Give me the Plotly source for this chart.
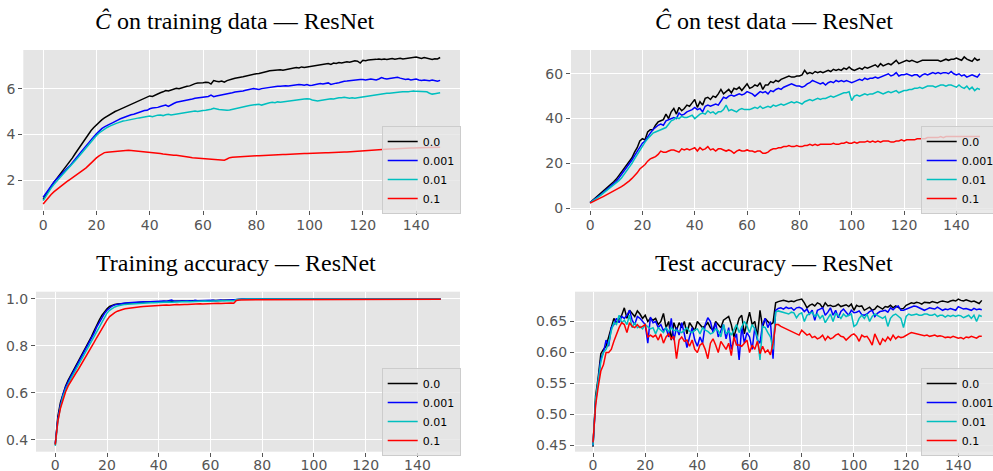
import plotly.graph_objects as go

epochs = list(range(150))
series_labels = ["0.0", "0.001", "0.01", "0.1"]
series_colors = ["#000000", "#0000ff", "#00bfbf", "#ff0000"]

panel_titles = ["<i>Ĉ</i> on training data — ResNet", "<i>Ĉ</i> on test data — ResNet",
                "Training accuracy — ResNet", "Test accuracy — ResNet"]

# ---------------- C-hat on training data ----------------
c_train_0 = [
    1.15, 1.35, 1.55, 1.72, 1.9, 2.05, 2.2, 2.35, 2.5, 2.65,
    2.8, 2.97, 3.15, 3.32, 3.5, 3.68, 3.85, 4.02, 4.17, 4.3,
    4.42, 4.53, 4.63, 4.72, 4.8, 4.87, 4.94, 5.0, 5.05, 5.1,
    5.18, 5.22, 5.25, 5.3, 5.35, 5.4, 5.45, 5.52, 5.57, 5.6,
    5.68, 5.66, 5.72, 5.78, 5.82, 5.86, 5.92, 5.9, 5.95, 5.98,
    6.02, 6.0, 6.04, 6.06, 6.1, 6.12, 6.18, 6.22, 6.25, 6.24,
    6.26, 6.28, 6.27, 6.2, 6.35, 6.32, 6.3, 6.33, 6.28, 6.35,
    6.4, 6.42, 6.45, 6.46, 6.5, 6.52, 6.55, 6.58, 6.6, 6.62,
    6.65, 6.66, 6.7, 6.72, 6.75, 6.78, 6.8, 6.81, 6.82, 6.83,
    6.8, 6.83, 6.86, 6.88, 6.9, 6.92, 6.9, 6.95, 6.93, 6.95,
    6.94, 6.96, 7.0, 7.02, 7.04, 7.05, 7.08, 7.1, 7.06, 7.12,
    7.1, 7.14, 7.12, 7.16, 7.18, 7.15, 7.2, 7.22, 7.2, 7.12,
    7.24, 7.22, 7.25, 7.26, 7.24, 7.28, 7.3, 7.27, 7.3, 7.28,
    7.3, 7.32, 7.29, 7.3, 7.33, 7.3, 7.32, 7.34, 7.35, 7.36,
    7.38, 7.35, 7.32, 7.36, 7.33, 7.3, 7.28, 7.31, 7.3, 7.36,
]
c_train_001 = [
    1.25, 1.42, 1.6, 1.76, 1.9, 2.03, 2.16, 2.28, 2.4, 2.52,
    2.62, 2.75, 2.9, 3.05, 3.2, 3.35, 3.5, 3.65, 3.78, 3.9,
    4.02, 4.14, 4.25, 4.33, 4.4, 4.45, 4.5, 4.58, 4.62, 4.68,
    4.73, 4.78, 4.82, 4.86, 4.88, 4.92, 4.98, 5.03, 5.04, 5.05,
    5.12, 5.15, 5.16, 5.18, 5.22, 5.25, 5.28, 5.22, 5.3, 5.35,
    5.4, 5.42, 5.45, 5.48, 5.5, 5.53, 5.55, 5.58, 5.6, 5.62,
    5.63, 5.64, 5.66, 5.72, 5.65, 5.68, 5.7, 5.72, 5.73, 5.75,
    5.78, 5.82, 5.85, 5.86, 5.88, 5.9, 5.93, 5.95, 5.98, 6.0,
    5.98, 5.96, 6.0, 6.02, 6.04, 6.06, 6.05, 6.08, 6.1, 6.1,
    6.12, 6.13, 6.12, 6.14, 6.16, 6.15, 6.18, 6.17, 6.15, 6.18,
    6.14, 6.15, 6.17, 6.2, 6.22, 6.2, 6.24, 6.25, 6.18, 6.22,
    6.24, 6.26, 6.3, 6.32, 6.33, 6.35, 6.36, 6.38, 6.38, 6.4,
    6.4, 6.38, 6.4, 6.42, 6.4, 6.38, 6.42, 6.48, 6.44, 6.42,
    6.44, 6.46, 6.48, 6.5, 6.46, 6.42, 6.4, 6.42, 6.38, 6.4,
    6.42, 6.38, 6.36, 6.38, 6.37, 6.35, 6.38, 6.36, 6.32, 6.36,
]
c_train_01 = [
    1.1, 1.3, 1.48, 1.65, 1.8, 1.95, 2.08, 2.2, 2.33, 2.45,
    2.57, 2.7, 2.84, 2.98, 3.12, 3.27, 3.42, 3.56, 3.7, 3.82,
    3.95, 4.06, 4.15, 4.23, 4.3, 4.36, 4.42, 4.46, 4.5, 4.55,
    4.58, 4.6, 4.63, 4.66, 4.68, 4.7, 4.72, 4.74, 4.76, 4.78,
    4.8, 4.77, 4.82, 4.84, 4.85, 4.82, 4.86, 4.88, 4.85, 4.87,
    4.9, 4.92, 4.94, 4.95, 4.96, 4.98, 5.0, 5.02, 5.0, 5.03,
    5.04, 5.05, 5.06, 5.1, 5.14, 5.1, 5.09, 5.08, 5.06, 5.05,
    5.07, 5.1, 5.12, 5.15, 5.18, 5.2, 5.22, 5.25, 5.27, 5.28,
    5.3, 5.32, 5.28, 5.3, 5.35, 5.38, 5.4, 5.38, 5.42, 5.4,
    5.42, 5.44, 5.45, 5.46, 5.48, 5.5, 5.52, 5.53, 5.55, 5.56,
    5.55, 5.5, 5.48, 5.46, 5.48, 5.5, 5.52, 5.55, 5.56, 5.55,
    5.58, 5.6, 5.6, 5.62, 5.6, 5.58, 5.6, 5.58, 5.6, 5.62,
    5.62, 5.64, 5.66, 5.68, 5.7, 5.72, 5.74, 5.76, 5.78, 5.8,
    5.8, 5.82, 5.84, 5.83, 5.85, 5.86, 5.85, 5.86, 5.88, 5.9,
    5.88, 5.87, 5.86, 5.84, 5.86, 5.8, 5.76, 5.78, 5.8, 5.82,
]
c_train_1 = [
    0.95, 1.1, 1.24, 1.37, 1.48, 1.58, 1.68, 1.77, 1.86, 1.94,
    2.02, 2.1, 2.18, 2.26, 2.34, 2.42, 2.52, 2.63, 2.75, 2.87,
    2.97, 3.06, 3.14, 3.2, 3.22, 3.23, 3.25, 3.26, 3.27, 3.28,
    3.3, 3.31, 3.3, 3.29, 3.28, 3.28, 3.27, 3.26, 3.24, 3.22,
    3.2, 3.19, 3.18, 3.17, 3.16, 3.14, 3.12, 3.1, 3.09, 3.09,
    3.08, 3.07, 3.06, 3.04, 3.02, 3.0, 2.98, 2.97, 2.96, 2.96,
    2.95, 2.95, 2.94, 2.94, 2.93, 2.92, 2.91, 2.89, 2.87, 2.92,
    2.98, 3.0, 3.01, 3.02, 3.03, 3.03, 3.04, 3.04, 3.05, 3.05,
    3.06, 3.06, 3.07, 3.08, 3.08, 3.09, 3.1, 3.1, 3.11, 3.11,
    3.12, 3.12, 3.13, 3.13, 3.14, 3.14, 3.15, 3.15, 3.16, 3.16,
    3.17, 3.17, 3.18, 3.18, 3.19, 3.19, 3.2, 3.2, 3.21, 3.21,
    3.22, 3.22, 3.22, 3.23, 3.23, 3.24, 3.24, 3.25, 3.25, 3.26,
    3.26, 3.27, 3.28, 3.29, 3.3, 3.31, 3.32, 3.33, 3.34, 3.35,
    3.36, 3.36, 3.37, 3.37, 3.38, 3.38, 3.39, 3.39, 3.4, 3.4,
    3.41, 3.41, 3.41, 3.42, 3.42, 3.42, 3.42, 3.43, 3.43, 3.43,
]

# ---------------- C-hat on test data ----------------
c_test_0 = [
    2.5, 3.5, 4.5, 5.5, 6.5, 7.5, 8.5, 9.5, 10.5, 11.8,
    13, 14.5, 16, 17.5, 19.5, 21, 22.5, 25, 27, 30,
    31, 30.5, 34, 35, 35, 37, 38.5, 39, 39.5, 42,
    40, 43, 44.5, 42, 45, 43.5, 44.5, 46, 45.5, 47,
    48.5, 45, 47.5, 46, 49, 49.5, 48.5, 50, 49.5, 51,
    53, 51, 52, 53, 51.5, 53.5, 53, 54, 52.5, 54,
    55.5, 53.5, 54, 55, 54.5, 56, 53, 55, 55, 56.5,
    56, 57, 56.5, 57.5, 58, 58.5, 59, 58.5, 58.5, 59,
    59, 59.5, 61.5, 60, 60.5, 60, 61, 60.5, 61, 60.5,
    61, 61.5, 61, 62, 61.5, 62, 61.5, 62.5, 62, 63,
    62, 61.5, 62, 62.5, 62, 63, 62.5, 63, 63.5, 64,
    63, 64.5, 63.5, 64, 64.5, 64, 65, 66, 64.5, 65,
    65.5, 66, 65.5, 66, 65.5, 65, 65.5, 66, 66, 66,
    66, 66, 66, 66, 65.5, 66, 66.5, 66, 66.5, 66.5,
    67, 66.5, 66, 67.5, 66.5, 66, 65.5, 67, 66, 66.5,
]
c_test_001 = [
    2.5, 3.3, 4.2, 5, 6, 7, 8, 9, 10, 11,
    12, 13.5, 15, 16.5, 18, 19.5, 21.5, 23.5, 25.5, 27.5,
    29, 30, 32, 33.5, 35, 36, 37, 37.5, 37, 39,
    39.5, 40, 40.5, 40, 42.5, 41.5, 42, 43, 43.5, 44,
    45, 44, 44.5, 43, 45.5, 46, 45.5, 46, 46.5, 46,
    48, 49.5, 49, 50, 50.5, 50, 50.5, 51, 50.5, 51,
    52, 51.5, 51, 50, 51, 52, 51.5, 52, 51, 52.5,
    52, 53, 53.5, 53, 54, 54.5, 55, 55.5, 55, 54.5,
    54.5, 54, 54.5, 55.5, 56, 57, 56.5, 56, 55.5, 56,
    55, 56, 56.5, 56, 57, 56.5, 57, 56.5, 57, 56.5,
    56, 56.5, 57, 57.5, 57, 58, 57.5, 58, 58, 58.5,
    58, 58.5, 59, 59.5, 60, 59, 59.5, 60.5, 59, 59.5,
    59.5, 60, 59.5, 59, 59.5, 59.5, 58.5, 59.5, 60, 59.5,
    60, 60.5, 60, 60.5, 60, 60.5, 60.5, 60, 61, 60,
    59.5, 60, 59, 59.5, 58.5, 59, 59.5, 59, 58.5, 60,
]
c_test_01 = [
    2.5, 3.2, 4, 4.8, 5.7, 6.6, 7.5, 8.4, 9.3, 10.2,
    11.2, 12.3, 13.5, 15, 16.5, 18, 20, 22, 24, 26,
    28, 29.5, 31, 32.5, 33.5, 34, 34.5, 35, 35.5, 36,
    37.5, 39, 39.5, 40.5, 40, 41, 40.5, 40.5, 41, 41.5,
    40, 41, 42, 42.5, 42, 43.5, 42.5, 43, 42, 43,
    43, 44, 46, 43.5, 44, 43.5, 43, 44, 44.5, 44,
    44, 44, 44.5, 45, 44.5, 45.5, 44.5, 45, 45.5, 45,
    46, 45.5, 46, 46.5, 46, 46.5, 47, 47.5, 47, 47.5,
    47, 46.5, 47.5, 48, 48.5, 48, 48.5, 49, 48.5, 49,
    49, 49.5, 50, 49.5, 50, 50.5, 51, 51.5, 51.5, 52,
    48, 50, 50.5, 50, 50.5, 51, 50.5, 51, 51, 51.5,
    52, 51.5, 51, 51.5, 52, 51.5, 52, 52.5, 51.5, 52,
    52.5, 52.5, 53, 53, 53.5, 53.5, 54, 53.5, 54, 54.5,
    54.5, 54.5, 54, 54.5, 55, 55, 54.5, 55, 55, 54.5,
    54, 55, 54, 53.5, 54.5, 53, 54, 52.5, 53.5, 53,
]
c_test_1 = [
    2.3, 2.8, 3.4, 4, 4.6, 5.2, 5.8, 6.4, 7, 7.6,
    8.2, 8.9, 9.6, 10.4, 11.2, 12.2, 13.3, 14.5, 15.8, 17.5,
    18.5, 19.5, 21, 22, 22.5, 23, 24, 25.5, 25, 25,
    25.5, 26, 26, 25.5, 25, 26.5, 26, 26.5, 26, 26.5,
    27, 25.5, 27, 26, 26.5, 27.5, 26, 26.5, 25.5, 26.5,
    26.5, 26, 25.5, 26, 25.5, 24.5, 25.5, 26, 25.5, 25.5,
    26, 25.5, 25.5, 25, 25.5, 25.5, 24.5, 24.5, 25, 26,
    26.5, 26.5, 27, 27, 27.5, 27.5, 28, 27.5, 27.5, 28,
    27.5, 27.5, 28, 28, 28.5, 28, 28.5, 28, 28.5, 28.5,
    28.5, 28.5, 28.5, 29, 28.5, 28.5, 29, 29, 29.5, 29,
    29, 29.5, 29, 29.5, 29.5, 29.5, 30, 29.5, 30, 29.5,
    30, 29.5, 30, 30, 30, 29.5, 29.5, 30, 30, 30.5,
    30, 30.5, 30.5, 30.5, 30.5, 31, 31, 31, 31, 31.5,
    31.5, 31.5, 31.5, 31.5, 32, 31.5, 32, 32, 32, 32,
    32, 32, 32, 32, 32, 32, 32, 32, 32, 32,
]

# ---------------- Training accuracy ----------------
acc_train_0 = [
    0.38, 0.5, 0.56, 0.6, 0.63, 0.655, 0.675, 0.695, 0.715, 0.735,
    0.76, 0.78, 0.8, 0.82, 0.84, 0.865, 0.89, 0.91, 0.93, 0.945,
    0.958, 0.968, 0.974, 0.977, 0.979, 0.98, 0.981, 0.982, 0.983, 0.984,
    0.984, 0.985, 0.984, 0.986, 0.986, 0.987, 0.986, 0.987, 0.988, 0.987,
    0.988, 0.988, 0.989, 0.988, 0.989, 0.99, 0.989, 0.99, 0.99, 0.991,
    0.99, 0.991, 0.99, 0.992, 0.991, 0.992, 0.992, 0.993, 0.992, 0.993,
    0.993, 0.994, 0.993, 0.994, 0.994, 0.995, 0.994, 0.995, 0.995, 0.996,
    0.998, 0.999, 0.999, 0.999, 0.9995, 0.9995, 0.9993, 0.9996, 0.9995, 0.9997,
    0.9996, 0.9997, 0.9998, 0.9997, 0.9998, 0.9998, 0.9997, 0.9998, 0.9999, 0.9998,
    0.9998, 0.9999, 0.9999, 0.9998, 0.9999, 0.9999, 0.9999, 0.9999, 1.0, 0.9999,
    1.0, 0.9999, 1.0, 1.0, 0.9999, 1.0, 1.0, 1.0, 0.9999, 1.0,
    1.0, 1.0, 1.0, 0.9999, 1.0, 1.0, 1.0, 1.0, 1.0, 1.0,
    1.0, 1.0, 1.0, 1.0, 1.0, 0.9999, 1.0, 1.0, 1.0, 1.0,
    1.0, 1.0, 1.0, 1.0, 1.0, 1.0, 1.0, 1.0, 1.0, 1.0,
    1.0, 1.0, 1.0, 1.0, 1.0, 1.0, 1.0, 1.0, 1.0, 1.0,
]
acc_train_001 = [
    0.385, 0.49, 0.55, 0.595, 0.625, 0.65, 0.67, 0.69, 0.71, 0.73,
    0.75, 0.77, 0.79, 0.81, 0.83, 0.855, 0.88, 0.9, 0.92, 0.938,
    0.952, 0.963, 0.97, 0.975, 0.978, 0.98, 0.981, 0.983, 0.984, 0.985,
    0.986, 0.985, 0.987, 0.986, 0.988, 0.987, 0.988, 0.989, 0.988, 0.99,
    0.989, 0.99, 0.991, 0.99, 0.992, 0.995, 0.99, 0.991, 0.99, 0.992,
    0.991, 0.992, 0.993, 0.991, 0.994, 0.992, 0.993, 0.994, 0.993, 0.995,
    0.994, 0.995, 0.993, 0.995, 0.996, 0.994, 0.995, 0.996, 0.997, 0.996,
    0.999, 0.999, 0.9995, 0.9994, 0.9996, 0.9995, 0.9997, 0.9996, 0.9997, 0.9998,
    0.9997, 0.9998, 0.9998, 0.9999, 0.9998, 0.9999, 0.9998, 0.9999, 0.9999, 0.9999,
    0.9999, 1.0, 0.9999, 1.0, 0.9999, 1.0, 1.0, 0.9999, 1.0, 1.0,
    1.0, 1.0, 0.9999, 1.0, 1.0, 1.0, 1.0, 1.0, 0.9999, 1.0,
    1.0, 1.0, 1.0, 1.0, 1.0, 1.0, 0.9999, 1.0, 1.0, 1.0,
    1.0, 1.0, 1.0, 1.0, 1.0, 1.0, 1.0, 1.0, 1.0, 1.0,
    1.0, 1.0, 1.0, 1.0, 1.0, 1.0, 1.0, 1.0, 1.0, 1.0,
    1.0, 1.0, 1.0, 1.0, 1.0, 1.0, 1.0, 1.0, 1.0, 1.0,
]
acc_train_01 = [
    0.375, 0.48, 0.54, 0.585, 0.615, 0.64, 0.66, 0.68, 0.7, 0.72,
    0.74, 0.76, 0.78, 0.8, 0.82, 0.84, 0.865, 0.885, 0.905, 0.925,
    0.94, 0.952, 0.96, 0.966, 0.97, 0.973, 0.975, 0.977, 0.978, 0.979,
    0.98, 0.981, 0.981, 0.982, 0.982, 0.983, 0.983, 0.984, 0.984, 0.985,
    0.985, 0.985, 0.986, 0.986, 0.987, 0.986, 0.987, 0.987, 0.988, 0.988,
    0.988, 0.989, 0.988, 0.989, 0.99, 0.989, 0.99, 0.99, 0.991, 0.99,
    0.991, 0.991, 0.992, 0.991, 0.992, 0.992, 0.993, 0.992, 0.993, 0.993,
    0.998, 0.999, 0.999, 0.9993, 0.9994, 0.9995, 0.9994, 0.9996, 0.9996, 0.9997,
    0.9997, 0.9996, 0.9998, 0.9997, 0.9998, 0.9998, 0.9999, 0.9998, 0.9998, 0.9999,
    0.9999, 0.9999, 0.9998, 0.9999, 1.0, 0.9999, 0.9999, 1.0, 0.9999, 1.0,
    1.0, 0.9999, 1.0, 1.0, 1.0, 0.9999, 1.0, 1.0, 1.0, 1.0,
    1.0, 1.0, 0.9999, 1.0, 1.0, 1.0, 1.0, 1.0, 1.0, 1.0,
    1.0, 1.0, 1.0, 1.0, 1.0, 1.0, 1.0, 0.9999, 1.0, 1.0,
    1.0, 1.0, 1.0, 1.0, 1.0, 1.0, 1.0, 1.0, 1.0, 1.0,
    1.0, 1.0, 1.0, 1.0, 1.0, 1.0, 1.0, 1.0, 1.0, 1.0,
]
acc_train_1 = [
    0.38, 0.48, 0.535, 0.575, 0.605, 0.63, 0.65, 0.668, 0.685, 0.702,
    0.72, 0.738, 0.756, 0.775, 0.795, 0.815, 0.835, 0.855, 0.875, 0.895,
    0.91, 0.925, 0.935, 0.942, 0.948, 0.953, 0.955, 0.958, 0.96, 0.962,
    0.963, 0.965, 0.966, 0.967, 0.968, 0.969, 0.968, 0.97, 0.97, 0.971,
    0.972, 0.972, 0.973, 0.974, 0.973, 0.975, 0.975, 0.976, 0.975, 0.977,
    0.977, 0.977, 0.978, 0.978, 0.979, 0.978, 0.98, 0.979, 0.98, 0.98,
    0.981, 0.98, 0.981, 0.982, 0.981, 0.982, 0.983, 0.982, 0.983, 0.982,
    0.994, 0.996, 0.996, 0.997, 0.996, 0.997, 0.997, 0.996, 0.997, 0.997,
    0.997, 0.998, 0.997, 0.997, 0.998, 0.997, 0.998, 0.997, 0.998, 0.998,
    0.997, 0.998, 0.998, 0.997, 0.998, 0.998, 0.998, 0.997, 0.998, 0.998,
    0.998, 0.998, 0.997, 0.998, 0.998, 0.996, 0.998, 0.998, 0.998, 0.997,
    0.998, 0.998, 0.997, 0.998, 0.998, 0.998, 0.999, 0.998, 0.998, 0.998,
    0.999, 0.999, 0.999, 0.999, 0.999, 0.999, 0.999, 0.999, 0.999, 0.999,
    0.999, 0.999, 0.999, 0.999, 0.999, 0.999, 0.999, 0.999, 0.999, 0.999,
    0.999, 0.999, 0.999, 0.999, 0.999, 0.999, 0.999, 0.999, 0.999, 0.999,
]

# ---------------- Test accuracy ----------------
acc_test_0 = [
    0.448, 0.53, 0.56, 0.598, 0.605, 0.61, 0.625, 0.64, 0.655, 0.648,
    0.655, 0.66, 0.672, 0.655, 0.668, 0.662, 0.658, 0.667, 0.662, 0.655,
    0.66, 0.65, 0.655, 0.652, 0.655, 0.645, 0.65, 0.663, 0.64, 0.65,
    0.62, 0.648, 0.636, 0.648, 0.64, 0.65, 0.63, 0.648, 0.642, 0.635,
    0.65, 0.645, 0.64, 0.643, 0.648, 0.64, 0.636, 0.65, 0.645, 0.64,
    0.652, 0.655, 0.658, 0.645, 0.625, 0.64, 0.655, 0.66, 0.63, 0.648,
    0.665, 0.645, 0.65, 0.625, 0.668, 0.64, 0.655, 0.65, 0.645, 0.648,
    0.68, 0.682, 0.683, 0.684, 0.683, 0.682, 0.683, 0.682, 0.684, 0.685,
    0.686, 0.68, 0.672, 0.676, 0.678, 0.675, 0.68, 0.678, 0.672, 0.68,
    0.675, 0.676, 0.674, 0.675, 0.678, 0.674, 0.676, 0.677, 0.674, 0.678,
    0.668, 0.676, 0.674, 0.675, 0.668, 0.67, 0.673, 0.668, 0.67, 0.675,
    0.672, 0.67, 0.674, 0.673, 0.676, 0.672, 0.675, 0.673, 0.67, 0.671,
    0.676, 0.678, 0.68, 0.679, 0.681, 0.68, 0.678, 0.681, 0.68, 0.68,
    0.682, 0.681, 0.68, 0.682, 0.683, 0.682, 0.681, 0.683, 0.684, 0.683,
    0.686, 0.684, 0.683, 0.685, 0.684, 0.682, 0.683, 0.681, 0.679, 0.684,
]
acc_test_001 = [
    0.45, 0.52, 0.555, 0.59, 0.6, 0.62, 0.61, 0.64, 0.645, 0.655,
    0.648, 0.658, 0.655, 0.66, 0.668, 0.652, 0.645, 0.658, 0.655, 0.65,
    0.645, 0.615, 0.657, 0.648, 0.65, 0.64, 0.645, 0.635, 0.64, 0.625,
    0.655, 0.62, 0.64, 0.628, 0.648, 0.63, 0.608, 0.625, 0.64, 0.62,
    0.61, 0.625, 0.615, 0.645, 0.656, 0.65, 0.632, 0.648, 0.625, 0.635,
    0.645, 0.622, 0.64, 0.605, 0.62, 0.63, 0.588, 0.642, 0.615, 0.632,
    0.625, 0.605, 0.64, 0.62, 0.615, 0.645, 0.655, 0.64, 0.65, 0.59,
    0.668, 0.671, 0.672, 0.67, 0.673, 0.671, 0.672, 0.668, 0.672, 0.673,
    0.671, 0.666, 0.67, 0.662, 0.668, 0.652, 0.668, 0.67, 0.672, 0.66,
    0.665, 0.672, 0.66, 0.668, 0.656, 0.666, 0.67, 0.665, 0.66, 0.668,
    0.664, 0.665, 0.667, 0.661, 0.66, 0.662, 0.666, 0.668, 0.658, 0.663,
    0.666, 0.667, 0.668, 0.665, 0.672, 0.669, 0.673, 0.675, 0.668, 0.668,
    0.67, 0.672, 0.674, 0.675, 0.674, 0.672, 0.67, 0.668, 0.67, 0.672,
    0.671, 0.67, 0.673, 0.671, 0.668, 0.67, 0.669, 0.671, 0.67, 0.668,
    0.674, 0.672, 0.67, 0.671, 0.669, 0.668, 0.671, 0.669, 0.67, 0.669,
]
acc_test_01 = [
    0.45, 0.525, 0.555, 0.585, 0.6, 0.605, 0.615, 0.635, 0.648, 0.645,
    0.66, 0.648, 0.652, 0.645, 0.66, 0.64, 0.648, 0.64, 0.642, 0.638,
    0.645, 0.642, 0.638, 0.64, 0.63, 0.64, 0.636, 0.632, 0.64, 0.634,
    0.64, 0.635, 0.636, 0.634, 0.632, 0.636, 0.64, 0.634, 0.632, 0.636,
    0.638, 0.63, 0.64, 0.636, 0.634, 0.63, 0.632, 0.638, 0.635, 0.625,
    0.645, 0.63, 0.635, 0.628, 0.638, 0.645, 0.632, 0.64, 0.65, 0.643,
    0.632, 0.645, 0.638, 0.625, 0.588, 0.642, 0.64, 0.632, 0.625, 0.605,
    0.665, 0.667, 0.666, 0.665, 0.663, 0.662, 0.665, 0.664, 0.656, 0.662,
    0.664, 0.65, 0.66, 0.662, 0.665, 0.658, 0.662, 0.655, 0.66, 0.648,
    0.655, 0.662, 0.65, 0.663, 0.66, 0.655, 0.662, 0.658, 0.66, 0.662,
    0.642, 0.645, 0.655, 0.66, 0.655, 0.662, 0.65, 0.658, 0.662, 0.66,
    0.658, 0.655, 0.658, 0.642, 0.655, 0.66, 0.662, 0.658, 0.655, 0.64,
    0.658, 0.662, 0.66, 0.661, 0.662, 0.66, 0.66, 0.662, 0.662, 0.66,
    0.66, 0.662, 0.658, 0.66, 0.66, 0.657, 0.66, 0.658, 0.66, 0.658,
    0.66, 0.659, 0.656, 0.658, 0.66, 0.655, 0.66, 0.65, 0.66, 0.658,
]
acc_test_1 = [
    0.455, 0.515, 0.545, 0.57, 0.58, 0.6, 0.6, 0.605, 0.618, 0.63,
    0.64, 0.648, 0.645, 0.632, 0.648, 0.642, 0.64, 0.645, 0.64, 0.642,
    0.645, 0.625, 0.628, 0.625, 0.628, 0.62, 0.63, 0.615, 0.625, 0.63,
    0.622, 0.626, 0.59, 0.62, 0.625, 0.618, 0.62, 0.61, 0.62, 0.605,
    0.6, 0.612, 0.615, 0.605, 0.59, 0.615, 0.622, 0.612, 0.6, 0.618,
    0.612, 0.605, 0.615, 0.595, 0.625, 0.612, 0.612, 0.61, 0.615, 0.62,
    0.6, 0.612, 0.605, 0.618, 0.598, 0.61, 0.6, 0.604, 0.596, 0.615,
    0.645, 0.645, 0.642, 0.64, 0.638, 0.637, 0.634, 0.632, 0.63, 0.628,
    0.636, 0.632, 0.628, 0.63, 0.624, 0.626, 0.622, 0.624, 0.628, 0.62,
    0.626, 0.622, 0.624, 0.628, 0.63, 0.626, 0.625, 0.62, 0.624, 0.628,
    0.63, 0.626, 0.618, 0.628, 0.625, 0.626, 0.62, 0.612, 0.63, 0.622,
    0.612, 0.622, 0.618, 0.625, 0.62, 0.628, 0.622, 0.626, 0.624, 0.625,
    0.628, 0.63, 0.632, 0.631, 0.63, 0.629, 0.628, 0.627, 0.628, 0.626,
    0.627, 0.628, 0.626, 0.627, 0.626, 0.624, 0.625, 0.624, 0.626, 0.625,
    0.623, 0.624, 0.622, 0.625, 0.624, 0.626, 0.624, 0.623, 0.626, 0.626,
]

panels = [
    ([c_train_0, c_train_001, c_train_01, c_train_1], "x", "y", "legend"),
    ([c_test_0, c_test_001, c_test_01, c_test_1], "x2", "y2", "legend2"),
    ([acc_train_0, acc_train_001, acc_train_01, acc_train_1], "x3", "y3", "legend3"),
    ([acc_test_0, acc_test_001, acc_test_01, acc_test_1], "x4", "y4", "legend4"),
]

fig = go.Figure()
for series, xa, ya, lg in panels:
    for vals, name, col in zip(series, series_labels, series_colors):
        fig.add_trace(go.Scatter(x=epochs, y=vals, mode="lines", name=name,
                                 line=dict(color=col, width=1.5),
                                 xaxis=xa, yaxis=ya, legend=lg))

W, H = 993, 471
def px_x(p):
    return p / W
def px_y(p):
    return 1 - p / H

tick_font = dict(family="DejaVu Sans", size=14, color="#555555")
common = dict(showgrid=True, gridcolor="#ffffff", gridwidth=1, zeroline=False,
              showline=False, ticks="outside", ticklen=4, tickwidth=1,
              tickcolor="#555555", tickfont=tick_font)
xcommon_top = dict(common, ticklabelstandoff=-2)
xcommon_bot = dict(common, ticklabelstandoff=-4)

xticks = [0, 20, 40, 60, 80, 100, 120, 140]
fig.update_layout(
    width=W, height=H,
    margin=dict(l=0, r=0, t=0, b=0, autoexpand=False),
    paper_bgcolor="#ffffff",
    plot_bgcolor="#e5e5e5",
    xaxis=dict(domain=[px_x(23.3), px_x(460)], range=[-7.45, 156.45], tickvals=xticks, anchor="y", **xcommon_top),
    yaxis=dict(domain=[px_y(210), px_y(50)], range=[0.69, 7.69], tickvals=[2, 4, 6], anchor="x", **common),
    xaxis2=dict(domain=[px_x(571), 1.0], range=[-7.3, 154.0], tickvals=xticks, anchor="y2", **xcommon_top),
    yaxis2=dict(domain=[px_y(210), px_y(50)], range=[-0.8, 70.6], tickvals=[0, 20, 40, 60], anchor="x2", **common),
    xaxis3=dict(domain=[px_x(36), px_x(460)], range=[-7.45, 156.45], tickvals=xticks, anchor="y3", **xcommon_bot),
    yaxis3=dict(domain=[px_y(451.7), px_y(291.7)], range=[0.35, 1.031], tickvals=[0.4, 0.6, 0.8, 1.0],
                tickformat=".1f", anchor="x3", **common),
    xaxis4=dict(domain=[px_x(575), 1.0], range=[-6.9, 153.3], tickvals=xticks, anchor="y4", **xcommon_bot),
    yaxis4=dict(domain=[px_y(451.7), px_y(291.7)], range=[0.440, 0.698],
                tickvals=[0.45, 0.5, 0.55, 0.6, 0.65], tickformat=".2f", anchor="x4", **common),
)

leg_common = dict(bgcolor="rgba(229,229,229,0.8)", bordercolor="#cccccc", borderwidth=1,
                  font=dict(family="DejaVu Sans", size=11, color="#000000"),
                  xanchor="left", yanchor="middle", tracegroupgap=0)
fig.update_layout(
    legend=dict(x=px_x(381.7), y=px_y(170), **leg_common),
    legend2=dict(x=px_x(920.7), y=px_y(170), **leg_common),
    legend3=dict(x=px_x(381.7), y=px_y(412), **leg_common),
    legend4=dict(x=px_x(920.7), y=px_y(412), **leg_common),
)

title_pos = [(235, 36), (774, 36), (235.5, 278), (774, 278)]
for t, (cx, by) in zip(panel_titles, title_pos):
    fig.add_annotation(text=t, xref="paper", yref="paper", x=px_x(cx), y=px_y(by),
                       xanchor="center", yanchor="bottom", showarrow=False,
                       font=dict(family="Liberation Serif", size=24, color="#000000"))

fig.write_html("out.html", config={"displayModeBar": False},
               post_script="document.body.style.margin='0';")
